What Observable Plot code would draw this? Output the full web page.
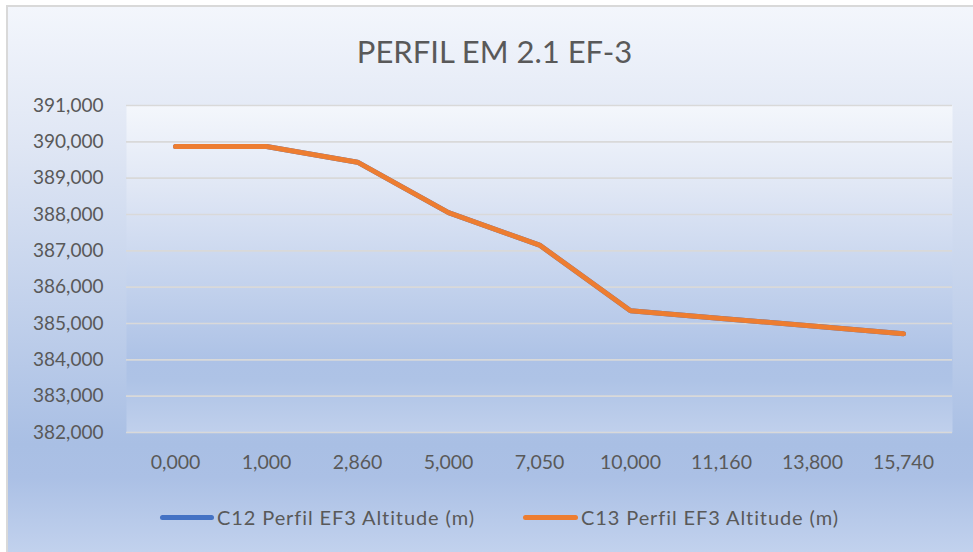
<!DOCTYPE html>
<html>
<head>
<meta charset="utf-8">
<script src="https://cdn.jsdelivr.net/npm/d3@7"></script>
<script src="https://cdn.jsdelivr.net/npm/@observablehq/plot@0.6"></script>
<style>
  html, body { margin: 0; padding: 0; width: 973px; height: 552px; overflow: hidden; background: #ffffff; }
  #frame {
    position: absolute; left: 6px; top: 5px; width: 980px; height: 560px;
    border-top: 2px solid #d9d9d9; border-left: 2px solid #d9d9d9;
    background: linear-gradient(to bottom, #f3f6fc 0%, #dfe6f4 25%, #a9bfe4 78%, #abc0e5 84%, #c6d5ef 100%);
  }
  #title {
    position: absolute; left: 0; top: 32px; width: 989px; text-align: center;
    font-family: Lato, "Open Sans", sans-serif; font-weight: 400; font-size: 31px; color: #595959;
  }
  #chart { position: absolute; left: 0; top: 0; }
  #legend { position: absolute; left: 0; top: 504px; font-family: Lato, sans-serif; font-size: 20px; letter-spacing: 0.9px; color: #595959; }
  .item { position: absolute; top: 0; white-space: nowrap; height: 26px; line-height: 26px; }
  .sw { position: absolute; top: 11px; height: 5px; border-radius: 3px; }
</style>
</head>
<body>
<div id="frame"></div>
<div id="title">PERFIL EM 2.1 EF-3</div>
<div id="chart"></div>
<div id="legend"></div>
<script>
// Distance categories (x axis)
const distances = [0, 1, 2.86, 5, 7.05, 10, 11.16, 13.8, 15.74];
// Series altitudes (m)
const c12 = [389.87, 389.87, 389.44, 388.05, 387.16, 385.35, 385.14, 384.93, 384.72];
const c13 = [389.87, 389.87, 389.44, 388.05, 387.16, 385.35, 385.14, 384.93, 384.72];
// Y ticks
const yTicks = [382, 383, 384, 385, 386, 387, 388, 389, 390, 391];
const seriesNames = ["C12 Perfil EF3 Altitude (m)", "C13 Perfil EF3 Altitude (m)"];
const seriesColors = ["#4472C4", "#ED7D31"];

const fmt = d => d.toFixed(3).replace(".", ",");

const s12 = distances.map((d, i) => ({x: d, y: c12[i]}));
const s13 = distances.map((d, i) => ({x: d, y: c13[i]}));

const plot = Plot.plot({
  width: 973,
  height: 552,
  marginLeft: 126,
  marginRight: 21,
  marginTop: 105,
  marginBottom: 120,
  style: {background: "transparent", fontFamily: "Lato, sans-serif", fontSize: "19px", color: "#595959", overflow: "visible"},
  x: {type: "point", domain: distances, padding: 0.5, label: null},
  y: {domain: [382, 391], label: null},
  marks: [
    Plot.frame({fill: "url(#plotgrad)", stroke: "none"}),
    Plot.gridY(yTicks, {stroke: "#d9d9d9", strokeOpacity: 1, strokeWidth: 1.6}),
    Plot.axisY(yTicks, {tickSize: 0, tickPadding: 23, tickFormat: fmt, label: null, fill: "#595959"}),
    Plot.axisX(distances, {tickSize: 0, tickPadding: 23, tickFormat: fmt, label: null, fill: "#595959", fontSize: 19.5, letterSpacing: 0.4}),
    Plot.line(s12, {x: "x", y: "y", stroke: seriesColors[0], strokeWidth: 5, strokeLinecap: "round", strokeLinejoin: "round"}),
    Plot.line(s13, {x: "x", y: "y", stroke: seriesColors[1], strokeWidth: 5, strokeLinecap: "round", strokeLinejoin: "round"})
  ]
});

const ns = "http://www.w3.org/2000/svg";
const defs = document.createElementNS(ns, "defs");
const lg = document.createElementNS(ns, "linearGradient");
lg.setAttribute("id", "plotgrad");
lg.setAttribute("x1", "0"); lg.setAttribute("y1", "0");
lg.setAttribute("x2", "0"); lg.setAttribute("y2", "1");
[["0%", "#f4f7fc"], ["25%", "#e0e7f5"], ["78%", "#adc2e6"], ["84%", "#aec3e6"], ["100%", "#c0d0ec"]].forEach(([o, c]) => {
  const st = document.createElementNS(ns, "stop");
  st.setAttribute("offset", o);
  st.setAttribute("stop-color", c);
  lg.appendChild(st);
});
defs.appendChild(lg);
plot.insertBefore(defs, plot.firstChild);
plot.style.background = "transparent";
document.getElementById("chart").appendChild(plot);

// Legend
const legend = document.getElementById("legend");
const pos = [[160, 217], [523, 581]];
seriesNames.forEach((name, i) => {
  const sw = document.createElement("div");
  sw.className = "sw";
  sw.style.left = pos[i][0] + "px";
  sw.style.width = (pos[i][1] - pos[i][0] - 3) + "px";
  sw.style.background = seriesColors[i];
  legend.appendChild(sw);
  const t = document.createElement("div");
  t.className = "item";
  t.style.left = pos[i][1] + "px";
  t.textContent = name;
  legend.appendChild(t);
});
</script>
</body>
</html>
